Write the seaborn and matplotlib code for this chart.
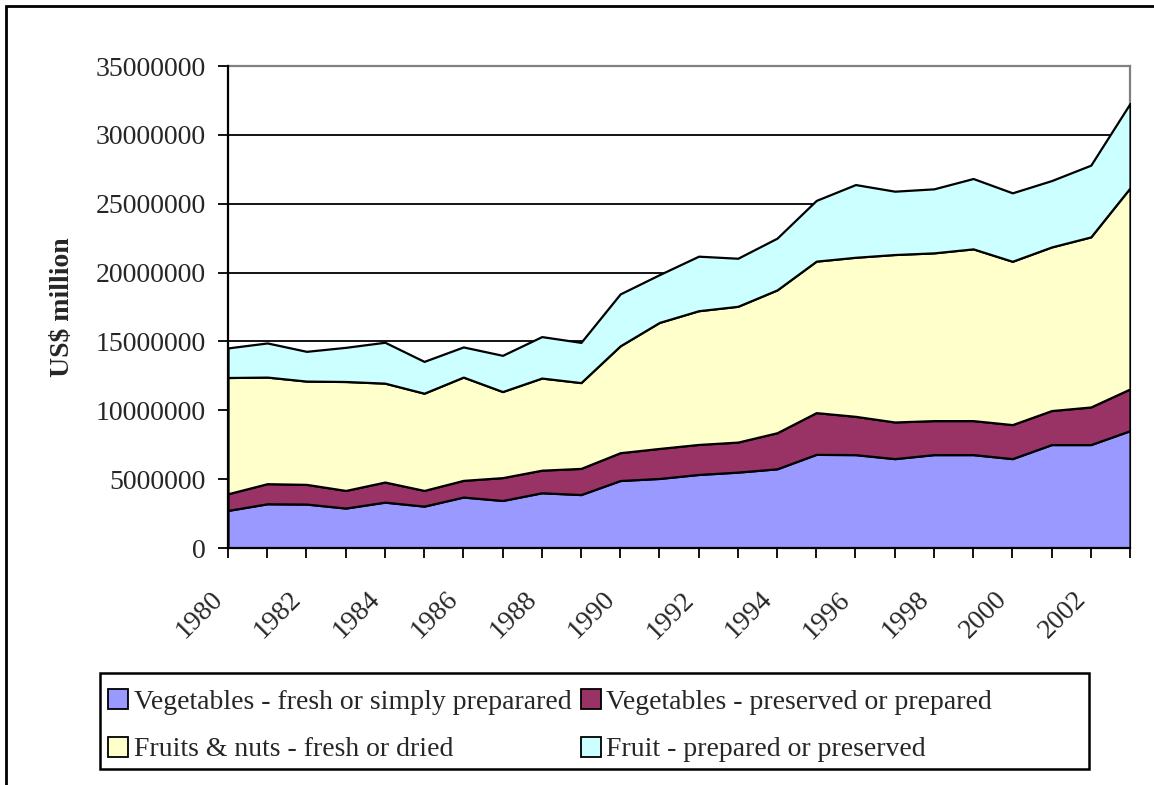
import numpy as np
import pandas as pd
import matplotlib
matplotlib.use("Agg")
import matplotlib.pyplot as plt
import matplotlib.transforms as mtransforms
from matplotlib.patches import Rectangle
import seaborn as sns

years = list(range(1980, 2004))
veg_fresh = [2.73, 3.21, 3.19, 2.90, 3.33, 3.04, 3.70, 3.45, 4.01, 3.88, 4.90, 5.05,
             5.34, 5.51, 5.75, 6.80, 6.78, 6.49, 6.78, 6.78, 6.49, 7.51, 7.51, 8.52]
veg_preserved = [1.21, 1.46, 1.43, 1.28, 1.46, 1.14, 1.21, 1.66, 1.64, 1.90, 2.02, 2.18,
                 2.18, 2.18, 2.62, 3.03, 2.78, 2.66, 2.47, 2.47, 2.47, 2.47, 2.73, 3.03]
fruit_fresh = [8.44, 7.74, 7.50, 7.91, 7.18, 7.06, 7.50, 6.25, 6.69, 6.23, 7.76, 9.15,
               9.71, 9.86, 10.37, 11.00, 11.55, 12.16, 12.18, 12.47, 11.86, 11.88, 12.35, 14.60]
fruit_prepared = [2.15, 2.48, 2.16, 2.48, 2.97, 2.31, 2.19, 2.63, 3.01, 2.92, 3.77, 3.47,
                  3.96, 3.49, 3.76, 4.41, 5.28, 4.60, 4.65, 5.11, 4.97, 4.82, 5.21, 6.13]
series_names = ["Vegetables - fresh or simply preparared",
                "Vegetables - preserved or prepared",
                "Fruits & nuts - fresh or dried",
                "Fruit - prepared or preserved"]
colors = ["#9999FF", "#993366", "#FFFFCC", "#CCFFFF"]
y_ticks = [0, 5000000, 10000000, 15000000, 20000000, 25000000, 30000000, 35000000]
x_labels = [str(y) if (y % 2 == 0 and y <= 2002) else "" for y in years]
y_label = "US$ million"

df = pd.DataFrame({"year": years,
                   series_names[0]: np.array(veg_fresh) * 1e6,
                   series_names[1]: np.array(veg_preserved) * 1e6,
                   series_names[2]: np.array(fruit_fresh) * 1e6,
                   series_names[3]: np.array(fruit_prepared) * 1e6})

sns.set_style("white")
plt.rcParams["font.family"] = ["Liberation Serif", "DejaVu Serif"]

W, H = 1154, 785
fig = plt.figure(figsize=(W / 100, H / 100), dpi=100)
ax = fig.add_axes([228 / W, 1 - 548 / H, (1130 - 228) / W, (548 - 66) / H])

ax.stackplot(df["year"], *[df[n] for n in series_names], colors=colors,
             edgecolor="black", linewidth=1.6, labels=series_names, zorder=3)

ax.set_xlim(1980, 2003)
ax.set_ylim(0, 35000000)
ax.set_yticks(y_ticks)
ax.set_yticklabels([str(v) for v in y_ticks], fontsize=20)
for v in y_ticks[1:-1]:
    ax.axhline(v, color="black", linewidth=1.3, zorder=1)

ax.set_xticks(years)
ax.set_xticklabels(x_labels, fontsize=20, rotation=45, ha="right", va="top")
shift = mtransforms.ScaledTranslation(-8 / 100, 0, fig.dpi_scale_trans)
for lab in ax.get_xticklabels():
    lab.set_transform(lab.get_transform() + shift)
ax.tick_params(axis="both", direction="out", length=7, width=1.3, color="black",
               left=True, bottom=True)
ax.tick_params(axis="x", pad=21)
ax.tick_params(axis="y", pad=9)

ax.set_ylabel(y_label, fontsize=20, fontweight="bold", labelpad=15)

for side in ["left", "bottom"]:
    ax.spines[side].set_color("black")
    ax.spines[side].set_linewidth(1.6)
    ax.spines[side].set_zorder(5)
for side in ["top", "right"]:
    ax.spines[side].set_visible(True)
    ax.spines[side].set_color("#808080")
    ax.spines[side].set_linewidth(1.6)

handles, labels = ax.get_legend_handles_labels()
order = [0, 2, 1, 3]
leg = fig.legend([handles[i] for i in order], [labels[i] for i in order],
                 loc="upper left", bbox_to_anchor=(108 / W, 1 - 689 / H), ncol=2,
                 fontsize=20, frameon=False,
                 handlelength=0.72, handleheight=0.72, handletextpad=0.2,
                 columnspacing=0.35, labelspacing=0.8, borderpad=0, borderaxespad=0)
for h in leg.legend_handles:
    h.set_edgecolor("black")
    h.set_linewidth(1.3)

fig.add_artist(Rectangle((100 / W, 1 - 769 / H), (1089 - 100) / W, (769 - 673) / H,
                         fill=False, edgecolor="black", linewidth=1.8,
                         transform=fig.transFigure))
fig.add_artist(Rectangle((6 / W, -0.1), 1.2, 1.1 - 6 / H, fill=False,
                         edgecolor="black", linewidth=2, transform=fig.transFigure))

fig.savefig("out.png", dpi=100, facecolor="white")
